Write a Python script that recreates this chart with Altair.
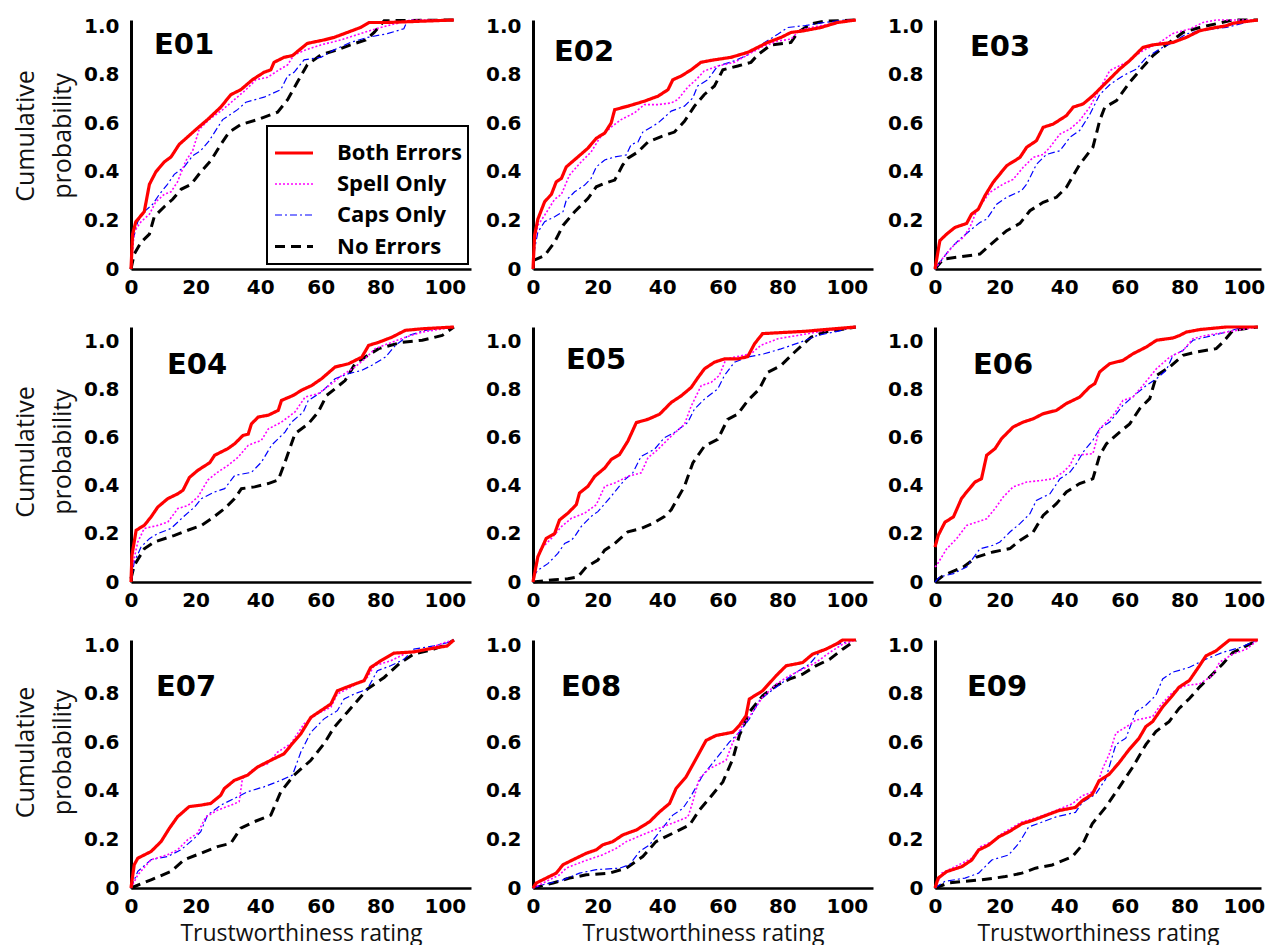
import altair as alt
import pandas as pd

SERIES = ["Both Errors", "Spell Only", "Caps Only", "No Errors"]
COLORS = ["#ff0000", "#ff00ff", "#0000ff", "#000000"]
DASHES = [[1, 0], [2, 2], [7, 3, 2, 3], [10, 6]]
WIDTHS = [3.2, 1.6, 1.2, 3.0]
PANELS = ["E01", "E02", "E03", "E04", "E05", "E06", "E07", "E08", "E09"]
X_TICKS = [0, 20, 40, 60, 80, 100]
Y_TICKS = [0, 0.2, 0.4, 0.6, 0.8, 1.0]

E01_BOTH = [(0,0),(0.5,0.14),(1.5,0.19),(4.1,0.23),(5.7,0.34),(7.7,0.39),(10.3,0.43),(12.4,0.45),(14.9,0.50),(17.5,0.53),(20.1,0.56),(23.7,0.60),(27.8,0.65),(30.9,0.70),(34,0.72),(37.6,0.76),(41.2,0.79),(43.3,0.80),(44.3,0.83),(47.4,0.85),(50,0.857),(54.6,0.906),(59.8,0.92),(62.9,0.93),(67,0.95),(71.1,0.97),(73.7,0.99),(79.4,0.99),(100,1.0)]
E01_SPELL = [(0,0),(1,0.15),(3.1,0.19),(5.7,0.22),(7.7,0.27),(10.3,0.30),(12.4,0.31),(14.4,0.35),(17,0.435),(19.1,0.475),(21.1,0.56),(24.2,0.60),(28.4,0.64),(32,0.68),(35.6,0.72),(38.7,0.76),(42.3,0.77),(45.9,0.80),(48.5,0.82),(50.5,0.86),(54.1,0.88),(58.8,0.90),(65,0.92),(72.2,0.95),(77.3,0.97),(83.5,0.99),(86.6,1.0),(100,1.0)]
E01_CAPS = [(0,0),(0.5,0.11),(2.1,0.19),(4.1,0.23),(6.7,0.26),(8.8,0.30),(11.3,0.34),(13.4,0.38),(16.5,0.41),(19.1,0.455),(21.6,0.475),(24.2,0.515),(28.4,0.60),(33,0.64),(35.6,0.67),(41.2,0.69),(46.4,0.72),(48.5,0.775),(50.5,0.79),(53.6,0.84),(58.8,0.85),(62.9,0.88),(68,0.91),(73.2,0.93),(79.4,0.945),(84.5,0.965),(85.6,0.997),(100,1.0)]
E01_NONE = [(0,0),(1,0.06),(3.1,0.107),(5.7,0.14),(7.2,0.21),(10.3,0.25),(12.9,0.28),(15.5,0.32),(18.6,0.34),(21.6,0.39),(24.7,0.435),(27.8,0.50),(30.4,0.55),(34,0.58),(39.2,0.60),(45.4,0.63),(48.5,0.68),(51.5,0.75),(54.6,0.82),(58.8,0.86),(63.9,0.88),(68,0.90),(72.7,0.92),(75.3,0.95),(78.4,0.997),(100,1.0)]

E02_BOTH = [(0,0),(0.5,0.135),(1.5,0.20),(3.6,0.27),(5.7,0.30),(7.2,0.35),(8.8,0.364),(10.3,0.41),(13.9,0.45),(17,0.485),(19.6,0.525),(22.2,0.546),(24.2,0.586),(25.3,0.64),(29.4,0.654),(34.5,0.674),(38.7,0.694),(41.8,0.72),(43.3,0.76),(45.9,0.775),(49,0.80),(52,0.83),(55.2,0.838),(61.3,0.85),(66.5,0.87),(69.6,0.89),(72.7,0.91),(76.8,0.93),(79.9,0.95),(84,0.957),(89.2,0.97),(94.3,0.99),(100,1.0)]
E02_SPELL = [(0,0),(0.5,0.11),(1.5,0.175),(3.6,0.216),(6.7,0.28),(8.8,0.30),(11.3,0.377),(14.9,0.43),(18,0.47),(20.6,0.525),(24.2,0.57),(27.3,0.60),(31.4,0.627),(34.5,0.66),(38.7,0.66),(42.8,0.667),(44.8,0.68),(47.9,0.73),(50.5,0.76),(53,0.795),(57.2,0.815),(62.4,0.83),(66.5,0.86),(70.6,0.89),(75.8,0.916),(79.9,0.923),(82.5,0.957),(86,0.97),(92.3,0.984),(96.4,0.997),(100,1.0)]
E02_CAPS = [(0,0),(0.5,0.08),(1.5,0.148),(3.6,0.19),(6.7,0.21),(9.3,0.23),(10.3,0.276),(12.9,0.31),(16,0.337),(18,0.364),(19.6,0.41),(22.2,0.438),(25.3,0.45),(28.9,0.458),(30.4,0.50),(32.5,0.51),(34,0.55),(38.7,0.586),(42.8,0.634),(46.9,0.654),(49.5,0.687),(51,0.735),(54.1,0.76),(57.2,0.815),(62.4,0.836),(66.5,0.86),(70.6,0.90),(75.8,0.943),(78.9,0.97),(84,0.977),(90.2,0.99),(96.4,1.0),(100,1.0)]
E02_NONE = [(0,0.034),(3.6,0.054),(6.7,0.108),(9.3,0.175),(12.9,0.23),(17,0.283),(19.6,0.33),(22.2,0.344),(25.3,0.357),(27.8,0.418),(29.4,0.445),(32.5,0.47),(35.6,0.51),(39.7,0.532),(43.8,0.55),(46.9,0.593),(50,0.654),(53,0.70),(56.2,0.735),(58.8,0.80),(63.4,0.815),(67.5,0.83),(69.6,0.86),(73.7,0.90),(79.9,0.91),(82,0.95),(86,0.984),(90.2,0.995),(100,1.0)]

E03_BOTH = [(0,0),(1.5,0.114),(3.6,0.14),(6.2,0.167),(9.8,0.183),(11.3,0.22),(13.4,0.24),(15.5,0.295),(18,0.348),(22.2,0.415),(26.3,0.448),(28.4,0.489),(31.4,0.515),(33.5,0.569),(36.6,0.582),(40.7,0.616),(42.8,0.65),(45.9,0.663),(48.9,0.696),(53.1,0.75),(57.2,0.803),(60.3,0.837),(64.4,0.89),(67.5,0.90),(73.7,0.91),(77.8,0.93),(82,0.957),(86.1,0.968),(90.2,0.977),(92.3,0.987),(100,1.0)]
E03_SPELL = [(0,0),(2.6,0.047),(6.2,0.10),(8.8,0.127),(10.8,0.167),(12.9,0.234),(17,0.308),(21.1,0.341),(24.2,0.36),(27.3,0.408),(30.4,0.448),(33.5,0.46),(35.6,0.489),(38.7,0.542),(41.8,0.562),(44.8,0.596),(47.9,0.65),(51,0.723),(54.1,0.797),(59.3,0.83),(64.4,0.877),(69.6,0.91),(73.7,0.946),(78.9,0.964),(83,0.99),(87.1,1.0),(100,1.0)]
E03_CAPS = [(0,0),(4.6,0.08),(7.7,0.12),(10.8,0.154),(13.9,0.187),(16,0.20),(19.1,0.26),(22.2,0.288),(26.8,0.315),(28.4,0.341),(31.4,0.42),(34.5,0.46),(38.7,0.475),(41.8,0.529),(44.8,0.556),(47.9,0.62),(51,0.70),(54.1,0.74),(58.2,0.776),(62.4,0.803),(65.5,0.85),(69.6,0.884),(73.7,0.91),(77.8,0.944),(82,0.957),(90.2,0.97),(96.4,0.99),(100,1.0)]
E03_NONE = [(0,0),(2.6,0.04),(6.7,0.047),(13.9,0.06),(18,0.107),(22.2,0.154),(26.3,0.183),(29.4,0.234),(33.5,0.268),(37.6,0.288),(40.7,0.328),(44.8,0.42),(48.9,0.489),(51,0.596),(52.6,0.65),(56.2,0.676),(60.3,0.75),(63.4,0.797),(67.5,0.857),(71.6,0.90),(76.8,0.95),(82,0.97),(92.3,1.0),(100,1.0)]

E04_BOTH = [(0,0),(0.3,0.105),(1.6,0.203),(4.1,0.222),(6.2,0.255),(8.3,0.294),(11.4,0.327),(14.5,0.346),(16.1,0.36),(18.1,0.41),(20.7,0.438),(24.4,0.468),(25.9,0.497),(30,0.523),(32.1,0.542),(34.7,0.575),(36.3,0.58),(37.3,0.62),(39.4,0.647),(42.5,0.654),(45.6,0.673),(46.6,0.712),(50.3,0.732),(52.8,0.752),(55.9,0.77),(59,0.797),(63.2,0.843),(67.4,0.856),(71.5,0.882),(73.6,0.928),(76.7,0.94),(80.8,0.96),(85,0.987),(90.2,0.993),(100,1.0)]
E04_SPELL = [(0,0),(0.5,0.065),(2.1,0.157),(4.1,0.21),(8.3,0.222),(11.4,0.235),(14.5,0.288),(17.6,0.30),(20.7,0.333),(23.8,0.40),(26.9,0.431),(30,0.457),(33.2,0.49),(36.3,0.536),(40.4,0.556),(42.5,0.60),(46.6,0.627),(50.8,0.667),(53.9,0.725),(58,0.739),(62.2,0.778),(65.3,0.81),(69.4,0.843),(72.5,0.876),(75.6,0.915),(80.8,0.94),(85,0.96),(90.2,0.98),(100,1.0)]
E04_CAPS = [(0,0),(1,0.078),(3.1,0.137),(5.7,0.17),(8.3,0.19),(12.4,0.21),(16.6,0.26),(19.7,0.294),(21.8,0.327),(25.9,0.353),(29,0.366),(32.1,0.418),(37.3,0.43),(40.4,0.47),(43.5,0.536),(47.7,0.588),(49.7,0.627),(53.4,0.667),(54.9,0.712),(59,0.745),(63.2,0.797),(67.4,0.817),(71.5,0.83),(74.6,0.85),(78.8,0.882),(81.9,0.928),(86,0.967),(91.2,0.987),(100,1.0)]
E04_NONE = [(0,0.013),(1,0.065),(4.1,0.13),(7.3,0.157),(13.5,0.183),(17.6,0.203),(21.8,0.222),(24.9,0.248),(29,0.288),(32.1,0.327),(34.2,0.366),(38.3,0.373),(42.5,0.386),(45.6,0.40),(47.7,0.47),(50.8,0.582),(54.9,0.62),(58,0.667),(60.6,0.732),(63.2,0.758),(66.3,0.79),(69.4,0.856),(72.5,0.882),(76.7,0.915),(83.9,0.94),(90.2,0.948),(96.4,0.967),(100,1.0)]

E05_BOTH = [(0,0),(1.5,0.099),(4.1,0.171),(6.7,0.19),(8.2,0.243),(10.8,0.27),(13.4,0.303),(14.4,0.349),(17,0.375),(19.1,0.414),(22.2,0.447),(24.2,0.48),(26.8,0.50),(29.4,0.553),(32,0.625),(35.6,0.638),(39.2,0.658),(42.8,0.704),(45.9,0.73),(49,0.763),(51,0.80),(53.1,0.836),(56.2,0.862),(59.3,0.875),(63.4,0.875),(66.5,0.884),(68.6,0.934),(71.1,0.974),(84,0.983),(100,1.0)]
E05_SPELL = [(0,0),(2.1,0.125),(5.7,0.171),(8.8,0.217),(11.9,0.25),(16,0.27),(19.6,0.303),(22.2,0.375),(25.3,0.388),(29.4,0.414),(33.5,0.428),(35.6,0.487),(38.7,0.52),(42.8,0.572),(46.9,0.618),(49,0.69),(52.1,0.77),(55.2,0.783),(57.7,0.81),(59.8,0.875),(62.4,0.882),(67.5,0.895),(70.6,0.928),(75.8,0.954),(82,0.967),(89.2,0.983),(100,1.0)]
E05_CAPS = [(0,0.02),(1.5,0.046),(4.6,0.072),(7.7,0.112),(9.8,0.151),(11.9,0.164),(12.9,0.178),(14.9,0.217),(18,0.257),(20.1,0.276),(24.2,0.336),(28.4,0.401),(30.9,0.428),(33.5,0.493),(37.6,0.52),(40.7,0.566),(43.8,0.586),(47.9,0.625),(50,0.678),(53.1,0.717),(57.2,0.757),(59.3,0.81),(62.4,0.862),(66.5,0.882),(71.6,0.895),(76.8,0.914),(83,0.941),(88.1,0.967),(94.3,0.983),(100,1.0)]
E05_NONE = [(0,0),(6.7,0.009),(10.8,0.013),(13.9,0.02),(16.5,0.059),(20.1,0.086),(22.2,0.125),(25.3,0.151),(29.4,0.197),(33.5,0.21),(37.1,0.23),(40.7,0.257),(42.8,0.283),(46.9,0.375),(49.5,0.467),(53.1,0.533),(57.2,0.559),(60.3,0.638),(63.4,0.658),(66.5,0.711),(70.1,0.757),(72.7,0.822),(76.8,0.849),(80.9,0.90),(86.1,0.96),(90.2,0.98),(100,1.0)]

E06_BOTH = [(0,0.137),(1,0.183),(3.1,0.235),(5.7,0.255),(8.2,0.327),(9.8,0.353),(12.4,0.392),(14.4,0.405),(16,0.497),(18.6,0.523),(20.6,0.562),(24.2,0.608),(27.3,0.627),(30.4,0.64),(33.5,0.66),(37.6,0.673),(40.7,0.70),(44.8,0.725),(47.9,0.765),(49.5,0.778),(51,0.824),(54.1,0.856),(58.2,0.869),(61.3,0.895),(65.5,0.922),(68.6,0.948),(73.7,0.957),(75.8,0.967),(77.8,0.98),(82,0.99),(90.2,1.0),(100,1.0)]
E06_SPELL = [(0,0.059),(0.5,0.065),(3.6,0.13),(6.7,0.17),(9.8,0.222),(12.9,0.235),(16,0.248),(18.6,0.288),(21.1,0.333),(24.2,0.373),(28.4,0.392),(33.5,0.399),(36.6,0.405),(39.7,0.431),(41.8,0.458),(43.3,0.497),(48.9,0.503),(51,0.601),(55.2,0.654),(58.2,0.712),(61.3,0.725),(64.4,0.771),(68.6,0.837),(72.7,0.882),(76.8,0.908),(79.9,0.954),(84,0.967),(90.2,0.98),(96.4,0.993),(100,1.0)]
E06_CAPS = [(0,0),(1.5,0.02),(5.7,0.033),(9.8,0.059),(13.9,0.13),(18,0.144),(20.1,0.157),(23.2,0.196),(26.3,0.229),(29.4,0.268),(31.4,0.32),(35.6,0.346),(38.7,0.405),(41.8,0.431),(43.8,0.464),(45.9,0.51),(48.9,0.556),(51,0.601),(54.1,0.627),(58.2,0.693),(62.4,0.739),(65.5,0.771),(68.6,0.797),(71.6,0.83),(73.7,0.889),(76.8,0.908),(79.9,0.948),(86.1,0.967),(90.2,0.98),(94.3,0.996),(100,1.0)]
E06_NONE = [(0,0),(2.6,0.026),(8.8,0.059),(12.9,0.098),(18,0.118),(23.2,0.131),(26.3,0.163),(30.4,0.196),(33.5,0.261),(37.6,0.307),(40.7,0.353),(44.8,0.386),(48.9,0.405),(51,0.497),(53.1,0.542),(57.2,0.588),(60.3,0.62),(63.4,0.68),(66.5,0.719),(68.6,0.81),(72.7,0.843),(76.8,0.889),(80.9,0.902),(87.1,0.915),(89.2,0.941),(92.3,0.987),(100,1.0)]

E07_BOTH = [(0,0),(1,0.094),(2.1,0.12),(6.2,0.147),(9.3,0.187),(11.9,0.241),(14.4,0.287),(18,0.328),(21.6,0.334),(24.7,0.341),(27.8,0.374),(28.9,0.401),(32,0.434),(36.1,0.455),(39.2,0.488),(43.3,0.515),(47.4,0.541),(49.5,0.575),(52.6,0.622),(55.7,0.688),(58.8,0.715),(61.9,0.742),(63.9,0.795),(68,0.816),(72.2,0.836),(74.2,0.889),(77.3,0.916),(81.4,0.947),(87.6,0.952),(91.8,0.963),(97.9,0.976),(100,1.0)]
E07_SPELL = [(0,0),(2.1,0.053),(6.2,0.114),(11.3,0.134),(14.4,0.154),(17.5,0.194),(20.6,0.221),(23.2,0.287),(26.8,0.314),(30.9,0.334),(33.5,0.348),(34.5,0.441),(38.1,0.481),(42.3,0.501),(45.4,0.548),(49.5,0.582),(53.6,0.662),(57.7,0.702),(61.9,0.729),(63.9,0.782),(68,0.809),(73.2,0.849),(75.3,0.896),(80.4,0.916),(85.6,0.949),(91.8,0.963),(96.9,0.989),(100,1.0)]
E07_CAPS = [(0,0),(2.1,0.067),(6.2,0.114),(11.3,0.127),(15.5,0.154),(19.6,0.20),(21.6,0.227),(23.7,0.294),(27.8,0.334),(32,0.361),(36.1,0.388),(41.2,0.408),(46.4,0.434),(50,0.455),(52.6,0.548),(55.7,0.628),(59.8,0.682),(63.9,0.715),(66,0.762),(69.1,0.782),(73.2,0.802),(76.3,0.876),(80.4,0.896),(84.5,0.922),(87.6,0.963),(93.8,0.976),(97.9,0.989),(100,1.0)]
E07_NONE = [(0,0),(6.2,0.033),(12.4,0.067),(16.5,0.114),(21.6,0.14),(26.8,0.167),(30.9,0.18),(34,0.241),(38.1,0.267),(43.3,0.294),(46.4,0.388),(50.5,0.455),(55.7,0.515),(59.8,0.582),(62.9,0.648),(67,0.709),(70.1,0.755),(73.2,0.802),(78.4,0.849),(83.5,0.909),(87.6,0.943),(93.8,0.963),(97.9,0.983),(100,1.0)]

E08_BOTH = [(0,0),(1,0.02),(4.1,0.04),(7.2,0.06),(9.3,0.094),(12.4,0.114),(16.5,0.14),(19.6,0.154),(21.6,0.174),(24.7,0.187),(27.8,0.214),(32,0.234),(36.1,0.267),(39.2,0.307),(42.3,0.341),(44.3,0.401),(47.4,0.448),(50.5,0.521),(53.6,0.595),(56.7,0.615),(61.9,0.628),(63.9,0.655),(66,0.695),(67,0.762),(71.1,0.795),(75.3,0.856),(78.4,0.896),(83.5,0.909),(86.6,0.943),(90.7,0.963),(93.8,0.983),(95.9,1.0),(100,1.0)]
E08_SPELL = [(0,0),(3.1,0.02),(8.2,0.053),(10.3,0.08),(15.5,0.107),(21.6,0.134),(25.8,0.16),(28.9,0.187),(35.1,0.221),(40.2,0.247),(44.3,0.267),(48,0.287),(49.5,0.348),(51.5,0.441),(54.6,0.481),(59.8,0.515),(61.9,0.588),(64.9,0.655),(68,0.709),(71.1,0.769),(75.3,0.822),(79.4,0.856),(83.5,0.882),(87.6,0.909),(91.8,0.949),(95.9,0.983),(100,1.0)]
E08_CAPS = [(0,0),(3.1,0.013),(9.3,0.033),(14.4,0.06),(19.6,0.074),(26.8,0.08),(29.9,0.094),(33,0.147),(36.1,0.174),(39.2,0.227),(43.3,0.294),(46.4,0.321),(48.5,0.361),(52.6,0.455),(56.7,0.521),(60.8,0.588),(63.9,0.628),(67,0.682),(70.1,0.755),(73.2,0.789),(77.3,0.829),(81.4,0.869),(85.6,0.902),(88.7,0.949),(92.8,0.976),(97.9,0.996),(100,1.0)]
E08_NONE = [(0,0),(6.2,0.02),(11.3,0.04),(16.5,0.053),(23.7,0.06),(28.9,0.08),(34,0.127),(38.1,0.187),(43.3,0.221),(48.5,0.254),(51.5,0.314),(54.6,0.361),(58.8,0.428),(61.9,0.521),(63.9,0.615),(67,0.709),(71.1,0.775),(75.3,0.816),(79.4,0.842),(83.5,0.862),(87.6,0.896),(91.8,0.922),(95.9,0.963),(100,1.0)]

E09_BOTH = [(0,0),(1,0.04),(3.6,0.066),(8.3,0.086),(11.4,0.113),(13.5,0.153),(16.6,0.173),(19.7,0.206),(22.8,0.226),(26.9,0.259),(30.1,0.272),(34.2,0.292),(38.3,0.312),(43.5,0.325),(45.6,0.352),(48.7,0.378),(50.8,0.432),(53.9,0.458),(57,0.505),(60.1,0.558),(63.2,0.604),(65.3,0.651),(67.4,0.671),(70.5,0.73),(73.6,0.777),(75.6,0.81),(78.8,0.837),(81.9,0.896),(83.9,0.936),(87,0.956),(91.2,1.0),(100,1.0)]
E09_SPELL = [(0,0),(2.1,0.06),(7.3,0.093),(11.4,0.12),(14,0.166),(18.7,0.193),(20.7,0.219),(26.9,0.266),(32.1,0.286),(37.3,0.312),(42.5,0.339),(45.6,0.372),(49.7,0.392),(51.8,0.478),(53.9,0.538),(56,0.624),(60.1,0.657),(62.2,0.677),(67.4,0.691),(69.4,0.73),(73.6,0.79),(77.7,0.817),(81.9,0.823),(86,0.857),(88.1,0.91),(92.2,0.943),(96.4,0.963),(100,1.0)]
E09_CAPS = [(0,0),(3.1,0.027),(9.3,0.04),(13.5,0.06),(17.6,0.113),(22.8,0.133),(25.9,0.179),(29,0.246),(33.2,0.266),(37.3,0.286),(43.5,0.305),(45.6,0.345),(49.7,0.378),(52.8,0.438),(56,0.578),(59.1,0.604),(62.2,0.71),(65.3,0.737),(68.4,0.777),(70.5,0.843),(73.6,0.87),(78.8,0.89),(83.9,0.923),(89.1,0.95),(94.3,0.969),(100,1.0)]
E09_NONE = [(0,0),(4.1,0.02),(9.3,0.027),(14.5,0.033),(21.8,0.046),(26.9,0.06),(31.1,0.08),(36.3,0.093),(42.5,0.126),(45.6,0.173),(48.7,0.259),(52.8,0.325),(57,0.405),(61.1,0.485),(65.3,0.578),(68.4,0.631),(72.5,0.671),(75.6,0.724),(78.8,0.764),(81.9,0.81),(86,0.863),(89.1,0.903),(92.2,0.949),(96.4,0.976),(100,1.0)]

CURVES = {
    "E01": [E01_BOTH, E01_SPELL, E01_CAPS, E01_NONE],
    "E02": [E02_BOTH, E02_SPELL, E02_CAPS, E02_NONE],
    "E03": [E03_BOTH, E03_SPELL, E03_CAPS, E03_NONE],
    "E04": [E04_BOTH, E04_SPELL, E04_CAPS, E04_NONE],
    "E05": [E05_BOTH, E05_SPELL, E05_CAPS, E05_NONE],
    "E06": [E06_BOTH, E06_SPELL, E06_CAPS, E06_NONE],
    "E07": [E07_BOTH, E07_SPELL, E07_CAPS, E07_NONE],
    "E08": [E08_BOTH, E08_SPELL, E08_CAPS, E08_NONE],
    "E09": [E09_BOTH, E09_SPELL, E09_CAPS, E09_NONE],
}

# layout (pixels)
PX_PER_UNIT = 3.229
COL_W = [340, 340, 326]           # right-hand column is cut by the page edge in the original
ROW_H = [249, 255, 248]
ROW_LABEL_SHIFT = [6, 14, 5]      # y tick labels sit slightly below their ticks in the original
ROW_TITLE_SHIFT = [-9, -3, -12]   # y-axis title slightly above centre
TITLE_POS = [(23, 34), (21, 41), (35, 36), (36, 47), (33, 42), (38, 47), (25, 56), (28, 56), (32, 56)]

rows = []
for p in PANELS:
    for s, pts in zip(SERIES, CURVES[p]):
        for i, (x, y) in enumerate(pts):
            rows.append({"panel": p, "series": s, "i": i, "x": x, "y": y})
df = pd.DataFrame(rows)

legend = alt.Legend(
    title=None, orient="none", legendX=136, legendY=106,
    symbolType="stroke", symbolSize=1444,
    labelFont="Open Sans", labelFontWeight="bold", labelFontSize=22, labelColor="black",
    strokeColor="black", fillColor="white", padding=6, rowPadding=-8, labelOffset=22,
)

color_sc = alt.Scale(domain=SERIES, range=COLORS)
dash_sc = alt.Scale(domain=SERIES, range=DASHES)
width_sc = alt.Scale(type="ordinal", domain=SERIES, range=WIDTHS)

panels = []
for k, name in enumerate(PANELS):
    r, c = divmod(k, 3)
    d = df[df.panel == name]
    sh = ROW_LABEL_SHIFT[r]
    y_label_offset = {
        "condition": [
            {"test": "datum.value > 0.9", "value": sh},
            {"test": "datum.value > 0.7", "value": round(sh * 0.8, 1)},
            {"test": "datum.value > 0.5", "value": round(sh * 0.6, 1)},
            {"test": "datum.value > 0.3", "value": round(sh * 0.4, 1)},
            {"test": "datum.value > 0.1", "value": round(sh * 0.2, 1)},
        ],
        "value": 0,
    }
    x_label_offset = {
        "condition": [
            {"test": "datum.value > 90", "value": -14 if c == 2 else -9},
            {"test": "datum.value > 70", "value": -9},
            {"test": "datum.value > 50", "value": -4},
        ],
        "value": 0,
    }
    x_axis = alt.Axis(values=X_TICKS, title="Trustworthiness rating" if r == 2 else None,
                      labelOffset=x_label_offset)
    y_kw = dict(values=Y_TICKS, labelOffset=y_label_offset,
                labelExpr="datum.value == 0 ? '0' : format(datum.value, '.1f')")
    if c == 0:
        y_kw.update(title=["Cumulative", "probability"], titleY=ROW_H[r] / 2 + ROW_TITLE_SHIFT[r])
    else:
        y_kw.update(title=None)
    y_axis = alt.Axis(**y_kw)
    x_max = round(COL_W[c] / PX_PER_UNIT, 2)
    layers = []
    for s in reversed(SERIES):
        layers.append(
            alt.Chart(d).transform_filter(alt.datum.series == s).mark_line().encode(
                x=alt.X("x:Q", scale=alt.Scale(domain=[0, x_max], nice=False, zero=False), axis=x_axis),
                y=alt.Y("y:Q", scale=alt.Scale(domain=[0, 1], nice=False), axis=y_axis),
                color=alt.Color("series:N", scale=color_sc, legend=legend),
                strokeDash=alt.StrokeDash("series:N", scale=dash_sc, legend=legend),
                strokeWidth=alt.StrokeWidth("series:N", scale=width_sc, legend=legend),
                order="i:Q",
            )
        )
    tx, ty = TITLE_POS[k]
    label = alt.Chart(pd.DataFrame({"label": [name]})).mark_text(
        font="DejaVu Sans", fontWeight="bold", fontSize=29, align="left", baseline="alphabetic", color="black"
    ).encode(text="label:N", x=alt.value(tx), y=alt.value(ty))
    panels.append(alt.layer(*layers, label).properties(width=COL_W[c], height=ROW_H[r]))

chart = alt.concat(*panels, columns=3, spacing={"row": 58, "column": 62}, bounds="flush").configure_view(
    stroke=None
).configure_axis(
    grid=False, ticks=False, tickSize=0, domainColor="black", domainWidth=2.5,
    labelFont="DejaVu Sans", labelFontWeight="bold", labelFontSize=20, labelColor="black",
    labelFlush=False, labelOverlap=False,
    titleFont="Open Sans", titleFontWeight="normal", titleFontSize=24, titleColor="#111",
).configure_axisX(labelPadding=8, titlePadding=6, titleFontSize=23).configure_axisY(
    labelPadding=12, titlePadding=8, titleLineHeight=37, domainWidth=3, titleFontSize=25
).configure_legend(strokeWidth=2).properties(padding={"left": 5, "top": 5, "right": 0, "bottom": 0})

chart.save("out.html", embed_options={"renderer": "svg", "actions": False})
